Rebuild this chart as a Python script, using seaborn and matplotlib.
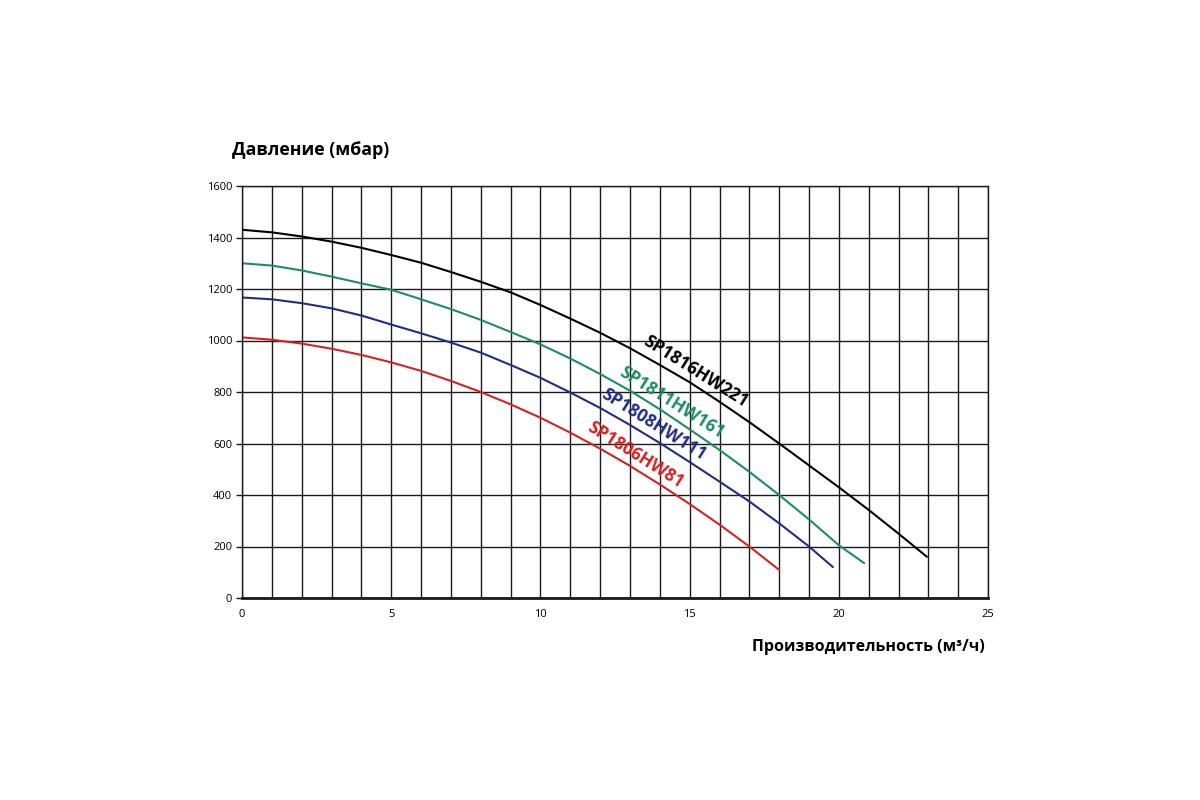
import numpy as np
import pandas as pd
import matplotlib
matplotlib.use("Agg")
import matplotlib.pyplot as plt
import seaborn as sns

# Pump curves: flow (m3/h) -> pressure (mbar)
q_221 = [0, 1, 2, 3, 4, 5, 6, 7, 8, 9, 10, 11, 12, 13, 14, 15, 16, 17, 18, 19, 20, 21, 22, 22.95]
p_221 = [1430, 1420, 1404, 1384, 1360, 1332, 1302, 1266, 1228, 1187, 1138, 1085, 1030, 970,
         905, 838, 762, 683, 600, 515, 430, 342, 250, 160]

q_161 = [0, 1, 2, 3, 4, 5, 6, 7, 8, 9, 10, 11, 12, 13, 14, 15, 16, 17, 18, 19, 20, 20.85]
p_161 = [1300, 1291, 1272, 1248, 1222, 1197, 1160, 1122, 1080, 1033, 985, 930, 870, 805,
         733, 655, 575, 490, 400, 305, 205, 135]

q_111 = [0, 1, 2, 3, 4, 5, 6, 7, 8, 9, 10, 11, 12, 13, 14, 15, 16, 17, 18, 19, 19.8]
p_111 = [1167, 1160, 1145, 1125, 1097, 1062, 1028, 992, 953, 905, 855, 798, 738, 672,
         602, 528, 452, 375, 290, 200, 120]

q_81 = [0, 1, 2, 3, 4, 5, 6, 7, 8, 9, 10, 11, 12, 13, 14, 15, 16, 17, 18]
p_81 = [1012, 1003, 988, 968, 944, 915, 882, 843, 800, 752, 700, 642, 580, 513, 441, 365,
        285, 200, 109]

models = ["SP1816HW221", "SP1811HW161", "SP1808HW111", "SP1806HW81"]
colors = ["#000000", "#1b8f60", "#1f2d86", "#d42222"]

df = pd.concat([
    pd.DataFrame({"q": q_221, "p": p_221, "model": models[0]}),
    pd.DataFrame({"q": q_161, "p": p_161, "model": models[1]}),
    pd.DataFrame({"q": q_111, "p": p_111, "model": models[2]}),
    pd.DataFrame({"q": q_81, "p": p_81, "model": models[3]}),
])

sns.set_style("white")
plt.rcParams['font.family'] = ['Open Sans', 'DejaVu Sans']
plt.rcParams['text.color'] = 'black'
plt.rcParams['xtick.color'] = 'black'
plt.rcParams['ytick.color'] = 'black'

fig = plt.figure(figsize=(12, 8), dpi=100)
ax = fig.add_axes([0.2017, 0.2525, 0.6217, 0.515])

sns.lineplot(data=df, x="q", y="p", hue="model", palette=dict(zip(models, colors)),
             linewidth=1.5, legend=False, ax=ax, sort=False)

ax.set_xlim(0, 25)
ax.set_ylim(0, 1600)
ax.set_xticks(range(0, 26, 5))
ax.set_xticks(range(0, 26), minor=True)
ax.set_yticks(range(0, 1601, 200))
ax.grid(True, which="both", axis="x", color="#1a1a1a", linewidth=1.0)
ax.grid(True, which="major", axis="y", color="#1a1a1a", linewidth=1.0)
ax.set_axisbelow(True)
for s in ax.spines.values():
    s.set_color("#1a1a1a")
    s.set_linewidth(1.0)
ax.spines["bottom"].set_linewidth(2.0)
ax.tick_params(axis="y", which="major", length=4, width=1, color="#1a1a1a",
               labelsize=8, pad=3, left=True)
ax.tick_params(axis="x", which="both", length=0, labelsize=8, pad=8)
ax.set_xlabel("")
ax.set_ylabel("")

# curve labels along the lines
label_pos = [(696, 372), (672, 403), (654, 425), (635, 455)]
for name, col, (px, py) in zip(models, colors, label_pos):
    fig.text(px / 1200, 1 - py / 800, name, color=col, fontsize=12.5,
             fontweight="bold", rotation=-32, ha="center", va="center",
             rotation_mode="anchor")

fig.text(232 / 1200, 1 - 150 / 800, "Давление (мбар)", fontsize=12.8,
         fontweight="bold", ha="left", va="center")
fig.text(985 / 1200, 1 - 647 / 800, "Производительность (м³/ч)", fontsize=11.5,
         fontweight="bold", ha="right", va="center")

plt.savefig("out.png", dpi=100)
